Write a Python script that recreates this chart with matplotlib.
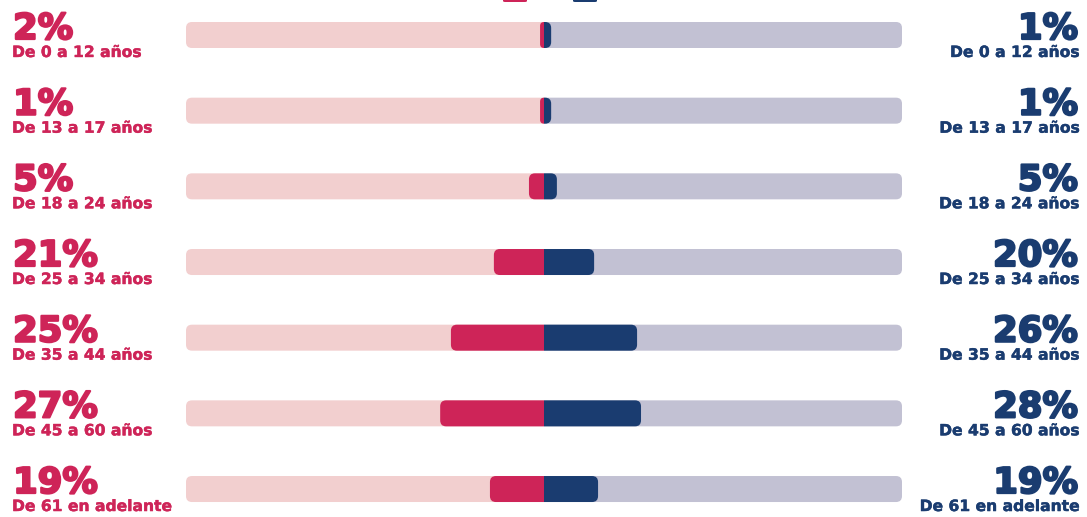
import matplotlib
matplotlib.use("Agg")
import matplotlib.pyplot as plt
import matplotlib.patheffects as pe
from matplotlib.patches import FancyBboxPatch, Rectangle

# rangos de edad y porcentajes (mujeres izquierda, hombres derecha)
grupos = ["De 0 a 12 años", "De 13 a 17 años", "De 18 a 24 años", "De 25 a 34 años",
          "De 35 a 44 años", "De 45 a 60 años", "De 61 en adelante"]
pct_mujeres = [2, 1, 5, 21, 25, 27, 19]
pct_hombres = [1, 1, 5, 20, 26, 28, 19]
# largo dibujado de cada barra (escala 0-100 por mitad)
barra_mujeres = [1.1, 1.1, 4.2, 14.0, 26.0, 29.0, 15.1]
barra_hombres = [2.0, 2.0, 3.6, 14.0, 26.0, 27.1, 15.1]

ROJO = "#CE2458"
AZUL = "#1A3C70"
ROSA_BG = "#F2CFCF"
GRIS_BG = "#C2C1D3"

W, H = 1087, 517
PX_X = 3.58          # px por unidad en x
PX_Y = 75.67         # px por fila
CX, Y0 = 544, 35     # centro de las barras, centro de la primera fila
ALTO = 26 / PX_Y
RADIO = 6

fig = plt.figure(figsize=(W / 100, H / 100), dpi=100)
ax = fig.add_axes([0, 0, 1, 1])
ax.set_xlim(-CX / PX_X, (W - CX) / PX_X)
ax.set_ylim((H - Y0) / PX_Y, -Y0 / PX_Y)
ax.axis("off")

aspect = PX_X / PX_Y


def media_barra(fila, largo, lado, color, z):
    # caja redondeada simetrica recortada a un lado del centro
    rs = min(RADIO / PX_X, largo)
    p = FancyBboxPatch((-largo, fila - ALTO / 2), 2 * largo, ALTO,
                       boxstyle=f"round,pad=0,rounding_size={rs}",
                       mutation_aspect=aspect, fc=color, ec="none", zorder=z)
    ax.add_patch(p)
    x0 = -200 if lado < 0 else 0
    clip = Rectangle((x0, -5), 200, 20, transform=ax.transData)
    p.set_clip_path(clip)


def texto(x, y, s, color, size, ha, grosor):
    t = ax.text(x, y, s, color=color, fontsize=size, fontweight="bold",
                ha=ha, va="baseline")
    t.set_path_effects([pe.withStroke(linewidth=grosor, foreground=color)])


for i in range(len(grupos)):
    media_barra(i, 100, -1, ROSA_BG, 1)
    media_barra(i, 100, 1, GRIS_BG, 1)
    media_barra(i, barra_mujeres[i], -1, ROJO, 2)
    media_barra(i, barra_hombres[i], 1, AZUL, 2)

    xl = (12 - CX) / PX_X
    xr = (1079 - CX) / PX_X
    texto(xl + 0.3, i + 4 / PX_Y, f"{pct_mujeres[i]}%", ROJO, 25.5, "left", 1.6)
    texto(xl, i + 22 / PX_Y, grupos[i], ROJO, 11.2, "left", 0.3)
    texto(xr - 0.3, i + 4 / PX_Y, f"{pct_hombres[i]}%", AZUL, 25.5, "right", 1.6)
    texto(xr, i + 22 / PX_Y, grupos[i], AZUL, 11.2, "right", 0.3)

# restos de la leyenda superior (cortada)
for x, c in [(503, ROJO), (573, AZUL)]:
    fig.patches.append(FancyBboxPatch((x / W, 1 - 2 / H), 24 / W, 12 / H,
                                      boxstyle="round,pad=0,rounding_size=0.002",
                                      transform=fig.transFigure, fc=c, ec="none"))

fig.savefig("out.png", dpi=100)
